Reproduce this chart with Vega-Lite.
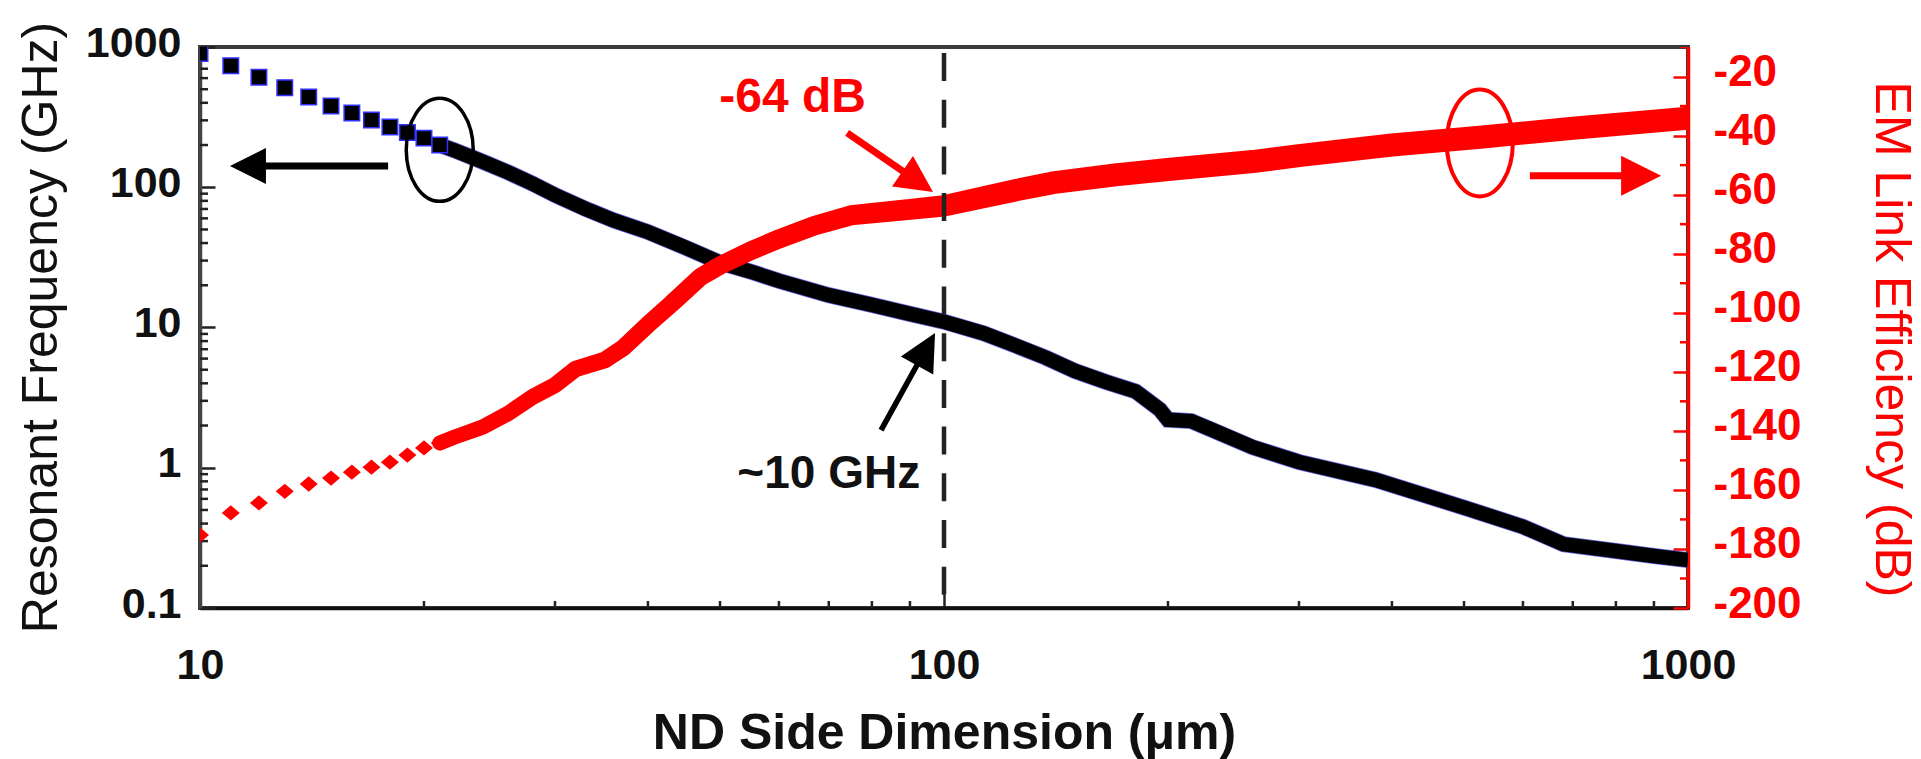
{
  "$schema": "https://vega.github.io/schema/vega-lite/v6.json",
  "width": 1488,
  "height": 561,
  "autosize": {"type": "none"},
  "padding": {"left": 200, "top": 47, "right": 233, "bottom": 151},
  "background": "white",
  "config": {"view": {"stroke": "#3a3a3a", "strokeWidth": 4}, "font": "Liberation Sans"},
  "datasets": {
    "freq": [
      {"nd": 10, "f": 900}, {"nd": 11, "f": 736}, {"nd": 12, "f": 608}, {"nd": 13, "f": 513},
      {"nd": 14, "f": 440}, {"nd": 15, "f": 379}, {"nd": 16, "f": 338}, {"nd": 17, "f": 302},
      {"nd": 18, "f": 269}, {"nd": 19, "f": 246}, {"nd": 20, "f": 224}, {"nd": 21, "f": 200},
      {"nd": 22, "f": 183}, {"nd": 24, "f": 152}, {"nd": 26, "f": 127}, {"nd": 28, "f": 106},
      {"nd": 30, "f": 88}, {"nd": 33, "f": 70}, {"nd": 36, "f": 58}, {"nd": 40, "f": 48},
      {"nd": 45, "f": 37}, {"nd": 50, "f": 29}, {"nd": 55, "f": 25}, {"nd": 60, "f": 21.5},
      {"nd": 70, "f": 17}, {"nd": 80, "f": 14.5}, {"nd": 90, "f": 12.5}, {"nd": 100, "f": 11},
      {"nd": 113, "f": 9.1}, {"nd": 125, "f": 7.4}, {"nd": 137, "f": 6.1}, {"nd": 150, "f": 4.9},
      {"nd": 165, "f": 4.1}, {"nd": 181, "f": 3.5}, {"nd": 195, "f": 2.6}, {"nd": 200, "f": 2.2},
      {"nd": 215, "f": 2.15}, {"nd": 230, "f": 1.85}, {"nd": 260, "f": 1.4}, {"nd": 300, "f": 1.1},
      {"nd": 380, "f": 0.82}, {"nd": 500, "f": 0.52}, {"nd": 600, "f": 0.38}, {"nd": 680, "f": 0.285},
      {"nd": 800, "f": 0.255}, {"nd": 900, "f": 0.235}, {"nd": 1000, "f": 0.22}
    ],
    "eff": [
      {"nd": 10, "db": -175.3}, {"nd": 11, "db": -167.8}, {"nd": 12, "db": -164.4}, {"nd": 13, "db": -160.5},
      {"nd": 14, "db": -158}, {"nd": 15, "db": -156}, {"nd": 16, "db": -154}, {"nd": 17, "db": -152.3},
      {"nd": 18, "db": -150.6}, {"nd": 19, "db": -148.2}, {"nd": 20, "db": -145.8}, {"nd": 21, "db": -144.1},
      {"nd": 22, "db": -142.1}, {"nd": 24, "db": -138.7}, {"nd": 26, "db": -134}, {"nd": 28, "db": -128.5},
      {"nd": 30, "db": -124.5}, {"nd": 32, "db": -119}, {"nd": 35, "db": -116}, {"nd": 37, "db": -112},
      {"nd": 40, "db": -104}, {"nd": 43, "db": -97}, {"nd": 47, "db": -88}, {"nd": 50, "db": -84},
      {"nd": 55, "db": -79}, {"nd": 60, "db": -75}, {"nd": 67, "db": -70.5}, {"nd": 75, "db": -67},
      {"nd": 90, "db": -65}, {"nd": 100, "db": -63.8}, {"nd": 110, "db": -61.5}, {"nd": 125, "db": -58.5},
      {"nd": 140, "db": -56}, {"nd": 170, "db": -53.3}, {"nd": 200, "db": -51.5}, {"nd": 260, "db": -48.8},
      {"nd": 300, "db": -46.8}, {"nd": 400, "db": -43.2}, {"nd": 530, "db": -40.5}, {"nd": 700, "db": -37.5},
      {"nd": 1000, "db": -34.1}
    ],
    "xminor": [
      {"v": 20}, {"v": 30}, {"v": 40}, {"v": 50}, {"v": 60}, {"v": 70}, {"v": 80}, {"v": 90},
      {"v": 200}, {"v": 300}, {"v": 400}, {"v": 500}, {"v": 600}, {"v": 700}, {"v": 800}, {"v": 900}
    ],
    "yminor": [
      {"v": 0.2}, {"v": 0.3}, {"v": 0.4}, {"v": 0.5}, {"v": 0.6}, {"v": 0.7}, {"v": 0.8}, {"v": 0.9},
      {"v": 2}, {"v": 3}, {"v": 4}, {"v": 5}, {"v": 6}, {"v": 7}, {"v": 8}, {"v": 9},
      {"v": 20}, {"v": 30}, {"v": 40}, {"v": 50}, {"v": 60}, {"v": 70}, {"v": 80}, {"v": 90},
      {"v": 200}, {"v": 300}, {"v": 400}, {"v": 500}, {"v": 600}, {"v": 700}, {"v": 800}, {"v": 900}
    ],
    "rminor": [
      {"v": -190}, {"v": -170}, {"v": -150}, {"v": -130}, {"v": -110}, {"v": -90},
      {"v": -70}, {"v": -50}, {"v": -30}, {"v": -10}
    ]
  },
  "layer": [
    {
      "layer": [
        {
          "data": {"name": "freq"},
          "transform": [{"filter": "datum.nd >= 21"}],
          "mark": {"type": "line", "color": "#2a2ae0", "strokeWidth": 16, "opacity": 0.7, "clip": true},
          "encoding": {
            "x": {
              "field": "nd", "type": "quantitative",
              "scale": {"type": "log", "domain": [10, 1000], "nice": false},
              "axis": {
                "orient": "bottom",
                "values": [10, 100, 1000],
                "format": "~g",
                "tickSize": -14,
                "tickWidth": 2.5, "tickColor": "#222",
                "domainColor": "#111", "domainWidth": 3.5,
                "labelFont": "Liberation Sans", "labelFontSize": 43, "labelFontWeight": "bold", "labelColor": "#111",
                "labelPadding": 50, "labelFlush": false, "labelOverlap": false,
                "grid": false,
                "title": "ND Side Dimension (μm)",
                "titleFont": "Liberation Sans", "titleFontSize": 50, "titleFontWeight": "bold", "titleColor": "#111",
                "titleX": 744, "titleY": 140, "titleAlign": "center", "titleBaseline": "alphabetic"
              }
            },
            "y": {
              "field": "f", "type": "quantitative",
              "scale": {"type": "log", "domain": [0.1, 1000], "nice": false},
              "axis": {
                "orient": "left",
                "values": [0.1, 1, 10, 100, 1000],
                "format": "~g",
                "tickSize": -15,
                "tickWidth": 2.5, "tickColor": "#222",
                "domainColor": "#444", "domainWidth": 3.5,
                "labelFont": "Liberation Sans", "labelFontSize": 43, "labelFontWeight": "bold", "labelColor": "#111",
                "labelPadding": 34, "labelOffset": -4, "labelBaseline": "middle", "labelOverlap": false, "labelFlush": false,
                "grid": false,
                "title": "Resonant Frequency (GHz)",
                "titleFont": "Liberation Sans", "titleFontSize": 50, "titleFontWeight": "normal", "titleColor": "#111",
                "titleAngle": -90, "titleX": -144, "titleY": 280, "titleAlign": "center", "titleBaseline": "alphabetic"
              }
            }
          }
        },
        {
          "data": {"name": "xminor"},
          "mark": {"type": "tick", "orient": "vertical", "color": "#222", "size": 14, "thickness": 2.5, "opacity": 1, "clip": true},
          "encoding": {
            "x": {"field": "v", "type": "quantitative", "scale": {"type": "log", "domain": [10, 1000], "nice": false}},
            "y": {"datum": 0.1, "type": "quantitative", "scale": {"type": "log", "domain": [0.1, 1000], "nice": false}}
          }
        },
        {
          "data": {"name": "yminor"},
          "mark": {"type": "tick", "orient": "horizontal", "color": "#222", "size": 16, "thickness": 2.5, "opacity": 1, "clip": true},
          "encoding": {
            "x": {"datum": 10, "type": "quantitative", "scale": {"type": "log", "domain": [10, 1000], "nice": false}},
            "y": {"field": "v", "type": "quantitative", "scale": {"type": "log", "domain": [0.1, 1000], "nice": false}}
          }
        },
        {
          "data": {"name": "freq"},
          "transform": [{"filter": "datum.nd >= 21"}],
          "mark": {"type": "line", "color": "#000000", "strokeWidth": 14.5, "clip": true},
          "encoding": {
            "x": {"field": "nd", "type": "quantitative", "scale": {"type": "log", "domain": [10, 1000], "nice": false}},
            "y": {"field": "f", "type": "quantitative", "scale": {"type": "log", "domain": [0.1, 1000], "nice": false}}
          }
        },
        {
          "data": {"name": "freq"},
          "transform": [{"filter": "datum.nd <= 21"}],
          "mark": {"type": "point", "shape": "square", "filled": true, "fill": "#000000", "stroke": "#3030ff", "strokeWidth": 1.5, "size": 240, "opacity": 1, "clip": true},
          "encoding": {
            "x": {"field": "nd", "type": "quantitative", "scale": {"type": "log", "domain": [10, 1000], "nice": false}},
            "y": {"field": "f", "type": "quantitative", "scale": {"type": "log", "domain": [0.1, 1000], "nice": false}}
          }
        },
        {
          "data": {"values": [{"nd": 21, "f": 185}]},
          "mark": {"type": "point", "shape": "M0,-1A0.65,1,0,1,1,0,1A0.65,1,0,1,1,0,-1Z", "filled": false, "color": "#000000", "strokeWidth": 3.5, "size": 10609, "opacity": 1},
          "encoding": {
            "x": {"field": "nd", "type": "quantitative", "scale": {"type": "log", "domain": [10, 1000], "nice": false}},
            "y": {"field": "f", "type": "quantitative", "scale": {"type": "log", "domain": [0.1, 1000], "nice": false}}
          }
        },
        {
          "data": {"values": [{"nd": 12.1, "nd2": 17.9, "f": 141.6}]},
          "mark": {"type": "rule", "color": "#000000", "strokeWidth": 7},
          "encoding": {
            "x": {"field": "nd", "type": "quantitative", "scale": {"type": "log", "domain": [10, 1000], "nice": false}},
            "x2": {"field": "nd2"},
            "y": {"field": "f", "type": "quantitative", "scale": {"type": "log", "domain": [0.1, 1000], "nice": false}}
          }
        },
        {
          "data": {"values": [{"nd": 11.6, "f": 141.6}]},
          "mark": {"type": "point", "shape": "M-1,0L1,-1L1,1Z", "filled": true, "color": "#000000", "size": 1296, "opacity": 1},
          "encoding": {
            "x": {"field": "nd", "type": "quantitative", "scale": {"type": "log", "domain": [10, 1000], "nice": false}},
            "y": {"field": "f", "type": "quantitative", "scale": {"type": "log", "domain": [0.1, 1000], "nice": false}}
          }
        },
        {
          "data": {"values": [{"nd": 82.3, "f": 1.857, "nd2": 93.1, "f2": 6.06}]},
          "mark": {"type": "rule", "color": "#000000", "strokeWidth": 5.5},
          "encoding": {
            "x": {"field": "nd", "type": "quantitative", "scale": {"type": "log", "domain": [10, 1000], "nice": false}},
            "x2": {"field": "nd2"},
            "y": {"field": "f", "type": "quantitative", "scale": {"type": "log", "domain": [0.1, 1000], "nice": false}},
            "y2": {"field": "f2"}
          }
        },
        {
          "data": {"values": [{"nd": 94.6, "f": 7.0}]},
          "mark": {"type": "point", "shape": "M1,0L-1,-1L-1,1Z", "filled": true, "color": "#000000", "size": 1369, "angle": -60.9, "opacity": 1},
          "encoding": {
            "x": {"field": "nd", "type": "quantitative", "scale": {"type": "log", "domain": [10, 1000], "nice": false}},
            "y": {"field": "f", "type": "quantitative", "scale": {"type": "log", "domain": [0.1, 1000], "nice": false}}
          }
        },
        {
          "data": {"values": [{"nd": 70, "f": 0.718, "label": "~10 GHz"}]},
          "mark": {"type": "text", "font": "Liberation Sans", "fontSize": 46, "fontWeight": "bold", "color": "#111", "align": "center", "baseline": "alphabetic"},
          "encoding": {
            "x": {"field": "nd", "type": "quantitative", "scale": {"type": "log", "domain": [10, 1000], "nice": false}},
            "y": {"field": "f", "type": "quantitative", "scale": {"type": "log", "domain": [0.1, 1000], "nice": false}},
            "text": {"field": "label"}
          }
        }
      ]
    },
    {
      "layer": [
        {
          "data": {"name": "eff"},
          "transform": [{"filter": "datum.nd >= 21"}],
          "mark": {"type": "trail", "color": "#ff0000", "clip": true},
          "encoding": {
            "x": {"field": "nd", "type": "quantitative", "scale": {"type": "log", "domain": [10, 1000], "nice": false}},
            "y": {
              "field": "db", "type": "quantitative",
              "scale": {"domain": [-200, -10], "nice": false, "zero": false},
              "axis": {
                "orient": "right",
                "values": [-200, -180, -160, -140, -120, -100, -80, -60, -40, -20],
                "labelExpr": "'-' + abs(datum.value)",
                "tickSize": -15,
                "tickWidth": 2.5, "tickColor": "#ff0000",
                "domainColor": "#ff0000", "domainWidth": 3.5,
                "labelFont": "Liberation Sans", "labelFontSize": 44, "labelFontWeight": "bold", "labelColor": "#ff0000",
                "labelPadding": 40, "labelOffset": -4, "labelBaseline": "middle", "labelAlign": "left", "labelOverlap": false, "labelFlush": false,
                "grid": false,
                "title": "EM Link Efficiency (dB)",
                "titleFont": "Liberation Sans", "titleFontSize": 50, "titleFontWeight": "normal", "titleColor": "#ff0000",
                "titleAngle": 90, "titleX": 187, "titleY": 292, "titleAlign": "center", "titleBaseline": "alphabetic"
              }
            },
            "size": {"field": "nd", "type": "quantitative", "scale": {"type": "log", "domain": [22, 150], "range": [15, 23], "clamp": true}, "legend": null}
          }
        },
        {
          "data": {"name": "rminor"},
          "mark": {"type": "tick", "orient": "horizontal", "color": "#ff0000", "size": 16, "thickness": 2.5, "opacity": 1, "clip": true},
          "encoding": {
            "x": {"datum": 1000, "type": "quantitative", "scale": {"type": "log", "domain": [10, 1000], "nice": false}},
            "y": {"field": "v", "type": "quantitative", "scale": {"domain": [-200, -10], "nice": false, "zero": false}}
          }
        },
        {
          "data": {"name": "eff"},
          "transform": [{"filter": "datum.nd <= 21"}],
          "mark": {"type": "point", "shape": "M0,-0.85L1,0L0,0.85L-1,0Z", "filled": true, "color": "#ff0000", "size": 324, "opacity": 1, "clip": true},
          "encoding": {
            "x": {"field": "nd", "type": "quantitative", "scale": {"type": "log", "domain": [10, 1000], "nice": false}},
            "y": {"field": "db", "type": "quantitative", "scale": {"domain": [-200, -10], "nice": false, "zero": false}}
          }
        },
        {
          "data": {"values": [{"nd": 525, "db": -42.5}]},
          "mark": {"type": "point", "shape": "M0,-1A0.617,1,0,1,1,0,1A0.617,1,0,1,1,0,-1Z", "filled": false, "color": "#ff0000", "strokeWidth": 4, "size": 11449, "opacity": 1},
          "encoding": {
            "x": {"field": "nd", "type": "quantitative", "scale": {"type": "log", "domain": [10, 1000], "nice": false}},
            "y": {"field": "db", "type": "quantitative", "scale": {"domain": [-200, -10], "nice": false, "zero": false}}
          }
        },
        {
          "data": {"values": [{"nd": 613, "nd2": 836, "db": -53.6}]},
          "mark": {"type": "rule", "color": "#ff0000", "strokeWidth": 7},
          "encoding": {
            "x": {"field": "nd", "type": "quantitative", "scale": {"type": "log", "domain": [10, 1000], "nice": false}},
            "x2": {"field": "nd2"},
            "y": {"field": "db", "type": "quantitative", "scale": {"domain": [-200, -10], "nice": false, "zero": false}}
          }
        },
        {
          "data": {"values": [{"nd": 865, "db": -53.6}]},
          "mark": {"type": "point", "shape": "M1,0L-1,-1L-1,1Z", "filled": true, "color": "#ff0000", "size": 1600, "opacity": 1},
          "encoding": {
            "x": {"field": "nd", "type": "quantitative", "scale": {"type": "log", "domain": [10, 1000], "nice": false}},
            "y": {"field": "db", "type": "quantitative", "scale": {"domain": [-200, -10], "nice": false, "zero": false}}
          }
        },
        {
          "data": {"values": [{"nd": 74.1, "db": -39.1, "nd2": 90.0, "db2": -53.7}]},
          "mark": {"type": "rule", "color": "#ff0000", "strokeWidth": 7},
          "encoding": {
            "x": {"field": "nd", "type": "quantitative", "scale": {"type": "log", "domain": [10, 1000], "nice": false}},
            "x2": {"field": "nd2"},
            "y": {"field": "db", "type": "quantitative", "scale": {"domain": [-200, -10], "nice": false, "zero": false}},
            "y2": {"field": "db2"}
          }
        },
        {
          "data": {"values": [{"nd": 92.2, "db": -55.6}]},
          "mark": {"type": "point", "shape": "M1,0L-1,-1L-1,1Z", "filled": true, "color": "#ff0000", "size": 1369, "angle": 34.5, "opacity": 1},
          "encoding": {
            "x": {"field": "nd", "type": "quantitative", "scale": {"type": "log", "domain": [10, 1000], "nice": false}},
            "y": {"field": "db", "type": "quantitative", "scale": {"domain": [-200, -10], "nice": false, "zero": false}}
          }
        },
        {
          "data": {"values": [{"nd": 62.6, "db": -32, "label": "-64 dB"}]},
          "mark": {"type": "text", "font": "Liberation Sans", "fontSize": 48, "fontWeight": "bold", "color": "#ff0000", "align": "center", "baseline": "alphabetic"},
          "encoding": {
            "x": {"field": "nd", "type": "quantitative", "scale": {"type": "log", "domain": [10, 1000], "nice": false}},
            "y": {"field": "db", "type": "quantitative", "scale": {"domain": [-200, -10], "nice": false, "zero": false}},
            "text": {"field": "label"}
          }
        },
        {
          "data": {"values": [{"nd": 100}]},
          "mark": {"type": "rule", "color": "#222222", "strokeWidth": 4.5, "strokeDash": [28, 18.7], "strokeDashOffset": 40.7},
          "encoding": {
            "x": {"field": "nd", "type": "quantitative", "scale": {"type": "log", "domain": [10, 1000], "nice": false}}
          }
        }
      ]
    }
  ],
  "resolve": {"scale": {"y": "independent"}, "axis": {"y": "independent"}}
}
